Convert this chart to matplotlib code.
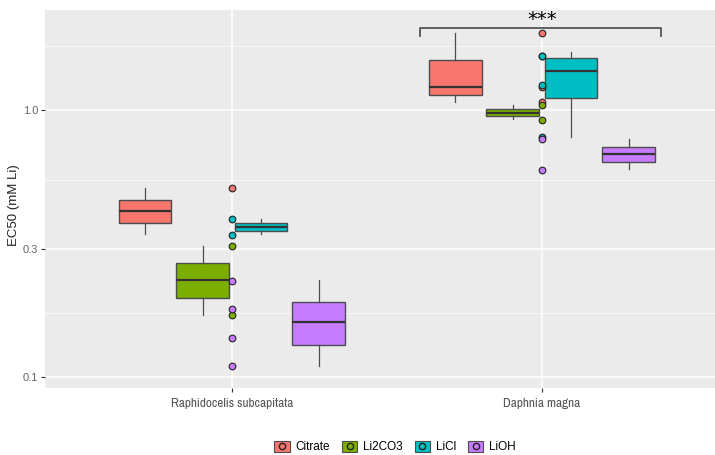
import matplotlib
matplotlib.use("Agg")
import matplotlib.pyplot as plt
from matplotlib.patches import Patch
from matplotlib.lines import Line2D
from matplotlib.ticker import FixedLocator, NullFormatter
from matplotlib import font_manager

# data (EC50, mM Li)
species = ["Raphidocelis subcapitata", "Daphnia magna"]
groups = ["Citrate", "Li2CO3", "LiCl", "LiOH"]
colors = ["#F8766D", "#7CAE00", "#00BFC4", "#C77CFF"]

# box stats, one row per group: [Raphidocelis, Daphnia]
whis_lo = [[0.342, 1.074], [0.170, 0.923], [0.342, 0.794], [0.110, 0.601]]
q1 = [[0.376, 1.140], [0.198, 0.947], [0.352, 1.106], [0.132, 0.637]]
med = [[0.418, 1.223], [0.230, 0.977], [0.364, 1.396], [0.160, 0.684]]
q3 = [[0.460, 1.540], [0.267, 1.011], [0.376, 1.571], [0.191, 0.729]]
whis_hi = [[0.508, 1.940], [0.310, 1.047], [0.390, 1.645], [0.230, 0.776]]

# individual points drawn at the species position
pts_raph = [[0.508], [0.309, 0.170], [0.390, 0.340], [0.229, 0.180, 0.1396, 0.110]]
pts_daph = [[1.94, 1.216, 1.074], [1.047, 0.920], [1.60, 1.60, 1.245, 0.792], [0.778, 0.598]]

yticks = [0.1, 0.3, 1.0]
ytick_labels = ["0.1", "0.3", "1.0"]
minor_y = [0.1732, 0.5477, 1.7321]

font_main = ["Liberation Sans", "DejaVu Sans"]

# look for a narrow face for the x labels
narrow = None
for f in font_manager.fontManager.ttflist:
    if "Narrow" in f.name or "Condensed" in f.name:
        narrow = f.name
        break
    if f.name == "DejaVu Sans" and f.stretch == "condensed" and f.style == "normal" and f.weight == 400:
        narrow = "DejaVu Sans"
if narrow is None:
    narrow = "DejaVu Sans"

fig = plt.figure(figsize=(7.15, 4.55), dpi=100)
ax = fig.add_axes([45 / 715, 1 - 388 / 455, 670 / 715, 378 / 455])
ax.set_facecolor("#EBEBEB")
ax.set_yscale("log")

offsets = [-0.28, -0.094, 0.094, 0.28]
box_w = 0.17
for g in range(len(groups)):
    stats = []
    for s in range(len(species)):
        stats.append({"whislo": whis_lo[g][s], "q1": q1[g][s], "med": med[g][s],
                      "q3": q3[g][s], "whishi": whis_hi[g][s], "fliers": []})
    pos = [s + offsets[g] for s in range(len(species))]
    ax.bxp(stats, positions=pos, widths=box_w, showcaps=False, patch_artist=True,
           boxprops=dict(facecolor=colors[g], edgecolor="#4D4D4D", linewidth=1.0),
           medianprops=dict(color="#333333", linewidth=1.6),
           whiskerprops=dict(color="#4D4D4D", linewidth=0.9), zorder=3)

for s, pts in enumerate([pts_raph, pts_daph]):
    for g in range(len(groups)):
        ax.plot([s] * len(pts[g]), pts[g], "o", ms=4.8, mfc=colors[g], mec="#222222",
                mew=0.8, ls="", zorder=4)

# significance bracket over Daphnia magna
ax.plot([1 - 0.393, 1 - 0.393, 1 + 0.385, 1 + 0.385], [1.889, 2.03, 2.03, 1.889],
        color="#555555", lw=1.3, zorder=5, clip_on=False)
ax.text(1, 2.19, "***", ha="center", va="center", fontsize=14, color="black")

ax.set_xlim(-0.603, 1.558)
ax.set_ylim(0.0907, 2.372)
ax.set_xticks(range(len(species)))
ax.set_xticklabels(species, family=narrow, fontstretch="condensed", fontsize=9.5,
                   color="#555555")
ax.set_yticks(yticks)
ax.set_yticklabels(ytick_labels, family=font_main, fontsize=8, color="#666666")
ax.yaxis.set_minor_locator(FixedLocator(minor_y))
ax.yaxis.set_minor_formatter(NullFormatter())
ax.tick_params(axis="both", which="major", length=3, color="#333333", pad=2)
ax.tick_params(axis="x", pad=4)
ax.tick_params(axis="y", which="minor", length=0)
ax.grid(True, which="major", color="white", lw=1.1)
ax.grid(True, which="minor", axis="y", color="white", lw=0.5)
ax.set_axisbelow(True)
for sp in ax.spines.values():
    sp.set_visible(False)
ax.set_ylabel("EC50 (mM Li)", family=font_main, fontsize=9.5, color="#222222")
ax.yaxis.set_label_coords(-0.038, 0.484)

handles = []
for g in range(len(groups)):
    handles.append((Patch(facecolor=colors[g], edgecolor="#4D4D4D", lw=0.8),
                    Line2D([], [], marker="o", ms=4.5, mfc=colors[g], mec="#222222", ls="")))
fig.legend(handles, groups, loc="center", bbox_to_anchor=(395 / 715, 1 - 447 / 455),
           ncol=4, frameon=False, prop={"family": font_main, "size": 8.5},
           handlelength=1.3, handleheight=1.1, columnspacing=1.0, handletextpad=0.5)

fig.savefig("out.png", dpi=100, facecolor="white")
